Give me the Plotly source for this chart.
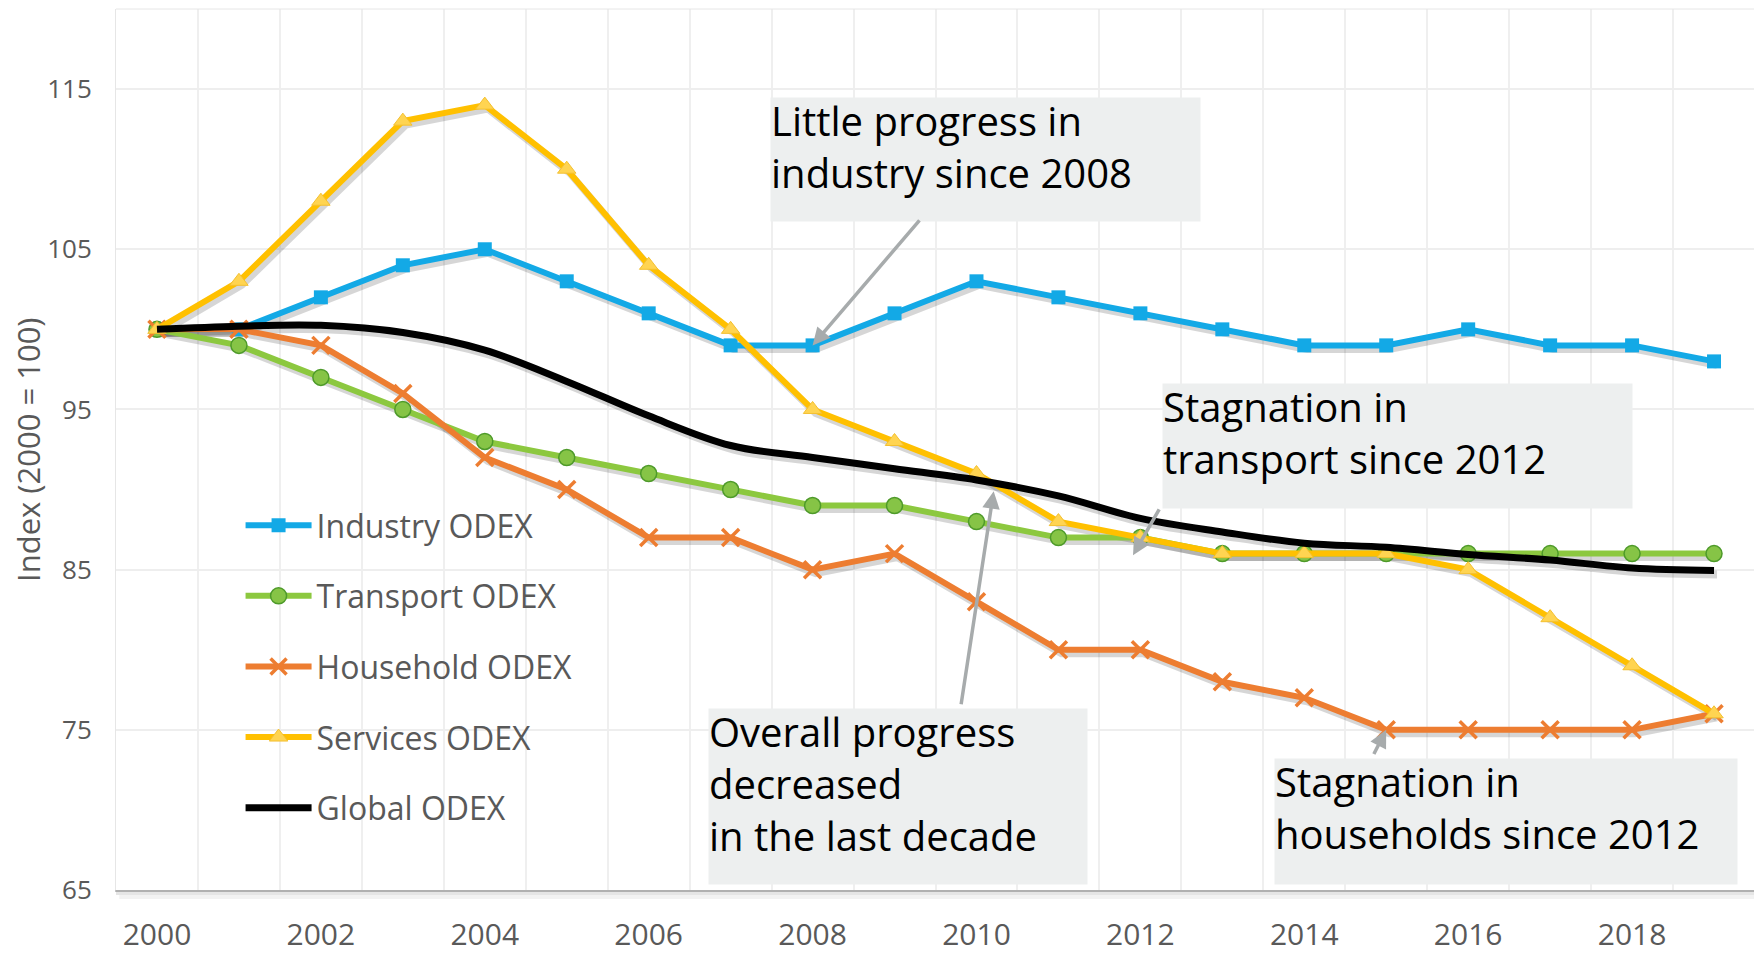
import plotly.graph_objects as go

years = list(range(2000, 2020))
industry = [100, 100, 102, 104, 105, 103, 101, 99, 99, 101, 103, 102, 101, 100, 99, 99, 100, 99, 99, 98]
transport = [100, 99, 97, 95, 93, 92, 91, 90, 89, 89, 88, 87, 87, 86, 86, 86, 86, 86, 86, 86]
household = [100, 100, 99, 96, 92, 90, 87, 87, 85, 86, 83, 80, 80, 78, 77, 75, 75, 75, 75, 76]
services = [100, 103, 108, 113, 114, 110, 104, 100, 95, 93, 91, 88, 87, 86, 86, 86, 85, 82, 79, 76]
global_odex = [100, 100.2, 100.25, 99.8, 98.7, 96.75, 94.6, 92.75, 92.0, 91.3, 90.6, 89.6, 88.2,
               87.35, 86.65, 86.4, 85.95, 85.6, 85.1, 84.95]

x_tick_years = [2000, 2002, 2004, 2006, 2008, 2010, 2012, 2014, 2016, 2018]
y_ticks = [65, 75, 85, 95, 105, 115]

X_RANGE = [1999.5, 2019.5]
Y_RANGE = [65, 120]

# page geometry: the html body adds an 8px offset
OFF = 8
W, H = 1762 - OFF, 953 - OFF
PL, PT, PR, PB = 116, 9, 1755, 890          # plot rect in screen pixels
ML, MT = PL - OFF, PT - OFF
MR, MB = W - (PR - OFF), H - (PB - OFF)
PW = PR - PL
PH = PB - PT
px_x = (X_RANGE[1] - X_RANGE[0]) / PW
px_y = (Y_RANGE[1] - Y_RANGE[0]) / PH

def paper_x(sx):
    return (sx - PL) / PW

def paper_y(sy):
    return (PB - sy) / PH

GRAY_TXT = "#595959"
FONT = "Open Sans"

series = [
    dict(name="Industry ODEX", y=industry, line=dict(color="#13A9E6", width=6),
         marker=dict(symbol="square", size=14, color="#13A9E6"), mode="lines+markers", shape="linear"),
    dict(name="Transport ODEX", y=transport, line=dict(color="#8CC83F", width=6),
         marker=dict(symbol="circle", size=16, color="#86C446", line=dict(color="#4E9A2A", width=1.5)),
         mode="lines+markers", shape="linear"),
    dict(name="Household ODEX", y=household, line=dict(color="#ED7D31", width=6),
         marker=dict(symbol="x-thin", size=17, color="#ED7D31", line=dict(color="#ED7D31", width=3.5)),
         mode="lines+markers", shape="linear"),
    dict(name="Services ODEX", y=services, line=dict(color="#FFC000", width=6),
         marker=dict(symbol="triangle-up", size=16, color="#FFD451", line=dict(color="#F4C030", width=1)),
         mode="lines+markers", shape="linear"),
    dict(name="Global ODEX", y=global_odex, line=dict(color="#000000", width=7),
         marker=dict(size=1), mode="lines", shape="spline"),
]

fig = go.Figure()

# drop shadows (same data on an offset axis pair)
for s in series:
    fig.add_trace(go.Scatter(
        x=years, y=s["y"], mode="lines", xaxis="x2", yaxis="y2",
        line=dict(color="rgba(0,0,0,0.16)", width=s["line"]["width"] + 1, shape=s["shape"]),
        showlegend=False, hoverinfo="skip"))

for i, s in enumerate(series):
    fig.add_trace(go.Scatter(
        x=years, y=s["y"], name=s["name"], mode=s["mode"], xaxis="x3", yaxis="y3",
        line=dict(color=s["line"]["color"], width=s["line"]["width"], shape=s["shape"]),
        marker=s["marker"], legendgroup=f"g{i}"))

sx, sy = 3 * px_x, 4 * px_y
axis_hidden = dict(visible=False, showgrid=False, zeroline=False, fixedrange=True, automargin=False)

fig.update_layout(
    width=W, height=H,
    margin=dict(l=ML, r=MR, t=MT, b=MB, autoexpand=False),
    paper_bgcolor="white", plot_bgcolor="white",
    xaxis=dict(range=X_RANGE, tickmode="array", tickvals=x_tick_years, automargin=False,
               ticktext=[str(v) for v in x_tick_years], showgrid=False, zeroline=False,
               ticks="", ticklabelstandoff=17,
               tickfont=dict(family=FONT, size=30, color=GRAY_TXT),
               minor=dict(tickmode="linear", tick0=1999.5, dtick=1, showgrid=True,
                          gridcolor="#EFEFEF", gridwidth=1.5),
               showline=True, linecolor="#C4C4C4", linewidth=2),
    yaxis=dict(range=Y_RANGE, tickmode="array", tickvals=y_ticks, showgrid=True, automargin=False,
               gridcolor="#EEEEEE", gridwidth=1.5, zeroline=False, ticks="",
               ticklabelstandoff=18,
               tickfont=dict(family=FONT, size=26, color=GRAY_TXT),
               showline=True, linecolor="#E6E6E6", linewidth=1, mirror=True),
    xaxis2=dict(range=[X_RANGE[0] - sx, X_RANGE[1] - sx], overlaying="x", **axis_hidden),
    yaxis2=dict(range=[Y_RANGE[0] + sy, Y_RANGE[1] + sy], overlaying="y", **axis_hidden),
    xaxis3=dict(range=X_RANGE, overlaying="x", **axis_hidden),
    yaxis3=dict(range=Y_RANGE, overlaying="y", **axis_hidden),
    legend=dict(x=0.076, y=0.445, xanchor="left", yanchor="top", bgcolor="rgba(0,0,0,0)",
                font=dict(family=FONT, size=32, color=GRAY_TXT), traceorder="grouped",
                tracegroupgap=26, itemwidth=66),
    showlegend=True,
)

# shadows of the plot frame
fig.add_shape(type="rect", xref="paper", yref="paper", x0=0, x1=1.0,
              y0=-5 / PH, y1=0, fillcolor="rgba(0,0,0,0.10)", line_width=0)
fig.add_shape(type="rect", xref="paper", yref="paper", x0=0.002, x1=1.002,
              y0=-9 / PH, y1=-5 / PH, fillcolor="rgba(0,0,0,0.05)", line_width=0)
fig.add_shape(type="rect", xref="paper", yref="paper", x0=1.0, x1=1 + 4 / PW,
              y0=-5 / PH, y1=1, fillcolor="rgba(0,0,0,0.10)", line_width=0)
fig.add_shape(type="line", xref="paper", yref="paper", x0=0, x1=1, y0=1, y1=1,
              line=dict(color="#E6E6E6", width=1))

# y title
fig.add_annotation(text="Index (2000 = 100)", xref="paper", yref="paper",
                   x=paper_x(28), y=paper_y(450), xanchor="center", yanchor="middle",
                   textangle=-90, showarrow=False,
                   font=dict(family=FONT, size=31, color=GRAY_TXT))

BOX = "#EDEFEF"
def box(lines, left, top, w, h):
    fig.add_annotation(text=" ", xref="paper", yref="paper",
                       x=paper_x(left), y=paper_y(top),
                       xanchor="left", yanchor="top", width=w, height=h,
                       bgcolor=BOX, borderpad=0, showarrow=False)
    fig.add_annotation(text="<br>".join(lines), xref="paper", yref="paper",
                       x=paper_x(left), y=paper_y(top), yshift=5,
                       xanchor="left", yanchor="top", align="left",
                       borderpad=0, showarrow=False,
                       font=dict(family=FONT, size=40, color="black"))

box(["Little progress in", "industry since 2008"], 770, 97, 429, 123)
box(["Stagnation in", "transport since 2012"], 1162, 383, 469, 124)
box(["Overall progress", "decreased", "in the last decade"], 708, 708, 378, 175)
box(["Stagnation in", "households since 2012"], 1274, 758, 462, 125)

def arrow(hx, hy, tx, ty):
    fig.add_annotation(text="", x=hx, y=hy, ax=tx, ay=ty, xref="x", yref="y",
                       axref="x", ayref="y", showarrow=True, arrowhead=2,
                       arrowsize=1, arrowwidth=3.5, arrowcolor="#A7ABAC")

arrow(years[8], industry[8], 2009.32, 106.9)
arrow(2011.91, 85.9, 2012.24, 88.85)
arrow(2010.21, 89.9, 2009.81, 76.5)
arrow(years[15], household[15], 2014.84, 73.4)

fig.write_html("out.html")
